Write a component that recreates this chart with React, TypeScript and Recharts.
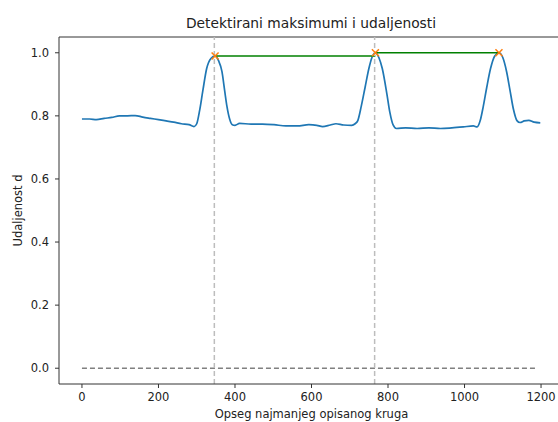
import {
  ComposedChart,
  Line,
  Scatter,
  XAxis,
  YAxis,
  ReferenceLine,
} from "recharts";

// Krivulja udaljenosti d ovisno o opsegu (očitano sa slike)
const CURVE_X = [
  0, 20, 38, 58, 78, 98, 119, 139, 159, 179, 200, 220, 240, 260, 280, 293,
  300, 308, 316, 326, 337, 348, 357, 366, 373, 379, 386, 393, 400, 412, 442,
  472, 502, 533, 563, 593, 614, 629, 649, 664, 684, 705, 714, 721, 730, 740,
  750, 758, 767, 776, 785, 797, 805, 813, 822, 846, 876, 907, 937, 967, 997,
  1023, 1033, 1041, 1049, 1058, 1068, 1079, 1090, 1100, 1110, 1119, 1128,
  1137, 1145, 1156, 1168, 1182, 1198,
];
const CURVE_Y = [
  0.79, 0.79, 0.788, 0.792, 0.795, 0.8, 0.8, 0.801, 0.796, 0.792, 0.788,
  0.784, 0.78, 0.775, 0.772, 0.766, 0.775, 0.82, 0.88, 0.95, 0.982, 0.99,
  0.975, 0.94, 0.88, 0.83, 0.79, 0.772, 0.77, 0.776, 0.774, 0.774, 0.772,
  0.768, 0.768, 0.772, 0.77, 0.766, 0.771, 0.775, 0.771, 0.77, 0.775, 0.785,
  0.83, 0.89, 0.95, 0.985, 1.0, 0.985, 0.95, 0.87, 0.81, 0.772, 0.76, 0.762,
  0.76, 0.762, 0.76, 0.762, 0.765, 0.768, 0.765, 0.785, 0.83, 0.89, 0.95,
  0.99, 1.0, 0.985, 0.94, 0.88, 0.82, 0.785, 0.779, 0.784, 0.786, 0.78, 0.778,
];

// Detektirani maksimumi
const PEAK_X = [348, 767, 1090];
const PEAK_Y = [0.99, 1.0, 1.0];

// Okomite oznake samo na prva dva maksimuma
const MARK_X = [346, 765];

// Nulta linija
const ZERO_X = [0, 1188];
const ZERO_Y = [0, 0];

const X_TICKS = [0, 200, 400, 600, 800, 1000, 1200];
const Y_TICKS = [0, 0.2, 0.4, 0.6, 0.8, 1.0];

const curve = CURVE_X.map((x, i) => ({ x, y: CURVE_Y[i] }));
const peaks = PEAK_X.map((x, i) => ({ x, y: PEAK_Y[i] }));
const zero = ZERO_X.map((x, i) => ({ x, y: ZERO_Y[i] }));
// razmaci između susjednih maksimuma, na visini početnog maksimuma
const segments = PEAK_X.slice(0, -1).map((x, i) => [
  { x, y: PEAK_Y[i] },
  { x: PEAK_X[i + 1], y: PEAK_Y[i] },
]);

const FONT = '"DejaVu Sans", sans-serif';
const INK = "#222";

function Cross({ cx, cy }: { cx?: number; cy?: number }) {
  if (cx == null || cy == null) return null;
  const s = 3.5;
  return (
    <path
      d={`M${cx - s},${cy - s}L${cx + s},${cy + s}M${cx - s},${cy + s}L${cx + s},${cy - s}`}
      stroke="#ff7f0e"
      strokeWidth={1.5}
      fill="none"
    />
  );
}

function YLabel({ viewBox }: { viewBox?: any }) {
  const cy = viewBox ? viewBox.y + viewBox.height / 2 : 210;
  return (
    <text
      x={22}
      y={cy}
      transform={`rotate(-90 22 ${cy})`}
      textAnchor="middle"
      fontSize={11.5}
      fontFamily={FONT}
      fill={INK}
    >
      Udaljenost d
    </text>
  );
}

export default function App() {
  return (
    <div
      style={{
        position: "fixed",
        left: 0,
        top: 0,
        width: 558,
        height: 422,
        overflow: "hidden",
        background: "#fff",
        fontFamily: FONT,
      }}
    >
      <div
        style={{
          position: "absolute",
          left: 111,
          width: 400,
          top: 14,
          textAlign: "center",
          fontSize: 13.8,
          lineHeight: "18px",
          color: INK,
        }}
      >
        Detektirani maksimumi i udaljenosti
      </div>
      <ComposedChart
        width={568}
        height={422}
        margin={{ top: 37, right: 4, bottom: 0, left: 0 }}
      >
        <XAxis
          dataKey="x"
          type="number"
          domain={[-60, 1260]}
          ticks={X_TICKS}
          allowDataOverflow
          height={38}
          tickSize={4}
          tickMargin={5}
          stroke="#333"
          tick={{ fontSize: 11.5, fill: INK, fontFamily: FONT }}
          label={{
            value: "Opseg najmanjeg opisanog kruga",
            position: "insideBottom",
            offset: 4,
            fontSize: 11.5,
            fill: INK,
            fontFamily: FONT,
          }}
        />
        <YAxis
          type="number"
          domain={[-0.05, 1.05]}
          ticks={Y_TICKS}
          allowDataOverflow
          width={59}
          tickSize={4}
          tickMargin={6}
          stroke="#333"
          tickFormatter={(v: number) => v.toFixed(1)}
          tick={{ fontSize: 11.5, fill: INK, fontFamily: FONT }}
          label={<YLabel />}
        />
        {/* gornji i desni rub osi */}
        <ReferenceLine y={1.05} stroke="#333" />
        <ReferenceLine x={1260} stroke="#333" />

        <Line
          data={zero}
          dataKey="y"
          stroke="#808080"
          strokeWidth={1.5}
          strokeDasharray="5 3"
          dot={false}
          type="linear"
          isAnimationActive={false}
        />
        <Line
          data={curve}
          dataKey="y"
          stroke="#1f77b4"
          strokeWidth={1.7}
          dot={false}
          type="monotone"
          isAnimationActive={false}
        />
        {segments.map((seg, i) => (
          <Line
            key={i}
            data={seg}
            dataKey="y"
            stroke="#008000"
            strokeWidth={1.5}
            dot={false}
            type="linear"
            isAnimationActive={false}
          />
        ))}
        {MARK_X.map((x) => (
          <ReferenceLine
            key={x}
            x={x}
            stroke="#bdbdbd"
            strokeWidth={1.5}
            strokeDasharray="5 3"
          />
        ))}
        <Scatter
          data={peaks}
          dataKey="y"
          shape={<Cross />}
          isAnimationActive={false}
        />
      </ComposedChart>
    </div>
  );
}
